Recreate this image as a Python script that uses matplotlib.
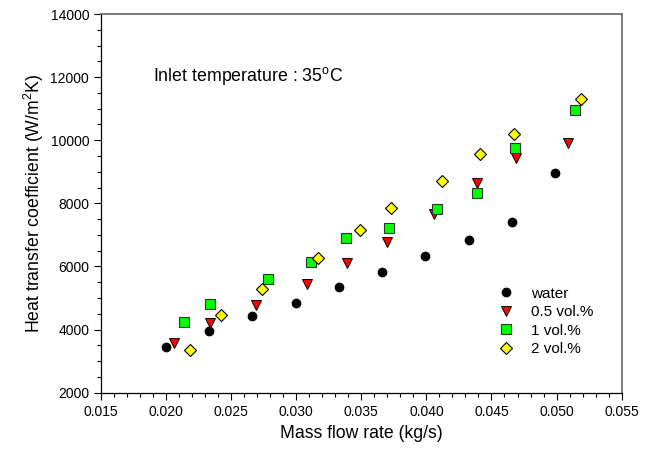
import matplotlib
matplotlib.use("Agg")
import matplotlib.pyplot as plt
from matplotlib.ticker import MultipleLocator, FormatStrFormatter

plt.rcParams['font.family'] = ['Liberation Sans', 'DejaVu Sans']
plt.rcParams['mathtext.fontset'] = 'custom'
plt.rcParams['mathtext.rm'] = 'Liberation Sans'
plt.rcParams['mathtext.it'] = 'Liberation Sans:italic'

water_x = [0.0200, 0.0233, 0.0266, 0.0300, 0.0333, 0.0366, 0.0399, 0.0433, 0.0466, 0.0499]
water_y = [3447, 3954, 4419, 4841, 5359, 5824, 6341, 6838, 7419, 8950]
v05_x = [0.0206, 0.0234, 0.0269, 0.0308, 0.0339, 0.0370, 0.0406, 0.0439, 0.0469, 0.0509]
v05_y = [3584, 4197, 4789, 5433, 6109, 6775, 7662, 8655, 9436, 9922]
v1_x = [0.0214, 0.0234, 0.0278, 0.0311, 0.0338, 0.0371, 0.0408, 0.0439, 0.0468, 0.0514]
v1_y = [4239, 4799, 5591, 6130, 6912, 7208, 7810, 8317, 9764, 10957]
v2_x = [0.0218, 0.0242, 0.0274, 0.0317, 0.0349, 0.0373, 0.0412, 0.0441, 0.0467, 0.0519]
v2_y = [3363, 4472, 5296, 6267, 7165, 7862, 8718, 9553, 10186, 11295]

fig = plt.figure(figsize=(6.59, 4.49), dpi=100)
ax = fig.add_axes([0.1533, 0.1254, 0.79, 0.8434])

ax.plot(water_x, water_y, 'o', ls='none', color='black', ms=6, label='water')
ax.plot(v05_x, v05_y, 'v', ls='none', mfc='#ff0000', mec='black', mew=0.7, ms=7, label='0.5 vol.%')
ax.plot(v1_x, v1_y, 's', ls='none', mfc='#00ff00', mec='#333333', mew=0.8, ms=6.5, label='1 vol.%')
ax.plot(v2_x, v2_y, 'D', ls='none', mfc='#ffff00', mec='black', mew=0.8, ms=6, label='2 vol.%')

ax.set_xlim(0.015, 0.055)
ax.set_ylim(2000, 14000)
ax.xaxis.set_major_locator(MultipleLocator(0.005))
ax.xaxis.set_minor_locator(MultipleLocator(0.001))
ax.yaxis.set_major_locator(MultipleLocator(2000))
ax.yaxis.set_minor_locator(MultipleLocator(500))
ax.xaxis.set_major_formatter(FormatStrFormatter('%.3f'))
ax.tick_params(which='both', direction='out', top=False, right=False, labelsize=10)
ax.tick_params(which='major', length=5, width=0.8)
ax.tick_params(which='minor', length=3, width=0.8)
for s in ['top', 'right']:
    ax.spines[s].set_color('#666666')
    ax.spines[s].set_linewidth(1.2)
for s in ['left', 'bottom']:
    ax.spines[s].set_color('black')
    ax.spines[s].set_linewidth(0.9)

ax.set_xlabel('Mass flow rate (kg/s)', fontsize=12.7, labelpad=5)
ax.set_ylabel('Heat transfer coefficient (W/m$^{2}$K)', fontsize=12.7, labelpad=3)

ax.text(0.1, 0.836, 'Inlet temperature : 35$^{\\mathrm{o}}$C', transform=ax.transAxes,
        fontsize=12.8, va='center', ha='left')

ax.legend(loc='upper left', bbox_to_anchor=(0.745, 0.3005), frameon=False, fontsize=11,
          handletextpad=1.05, labelspacing=0.3, handlelength=1.2, borderpad=0)

fig.savefig('out.png', dpi=100)
